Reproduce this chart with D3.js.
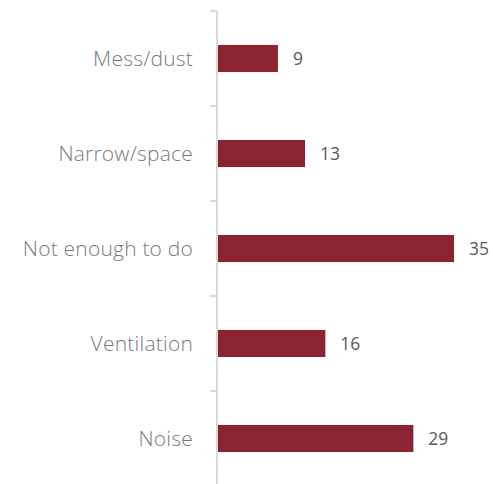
<!DOCTYPE html>
<html>
<head>
<meta charset="utf-8">
<script src="https://cdn.jsdelivr.net/npm/d3@7"></script>
<style>
  body { margin: 0; background: #fff; }
  svg { display: block; }
</style>
</head>
<body>
<script>
const categories = ['Mess/dust', 'Narrow/space', 'Not enough to do', 'Ventilation', 'Noise'];
const values = [9, 13, 35, 16, 29];

const width = 493;
const height = 484;
const margin = {top: 11, right: 20, bottom: -2, left: 217};

const svg = d3.select('body').append('svg')
  .attr('width', width)
  .attr('height', height);

const x = d3.scaleLinear().domain([0, 35]).range([margin.left, margin.left + 237]);
const y = d3.scaleBand().domain(categories)
  .range([margin.top, height - margin.bottom])
  .paddingInner(0.715).paddingOuter(0.3575);

// axis line + tick marks between bands
const axisColor = '#d9d9d9';
svg.append('line')
  .attr('x1', margin.left).attr('x2', margin.left)
  .attr('y1', margin.top).attr('y2', height)
  .attr('stroke', axisColor).attr('stroke-width', 2);

const step = y.step();
const tickYs = d3.range(categories.length + 1).map(i => margin.top + i * step);
svg.selectAll('.tick').data(tickYs).enter().append('line')
  .attr('class', 'tick')
  .attr('x1', margin.left - 7).attr('x2', margin.left)
  .attr('y1', d => d).attr('y2', d => d)
  .attr('stroke', axisColor).attr('stroke-width', 2);

svg.selectAll('.bar').data(categories).enter().append('rect')
  .attr('class', 'bar')
  .attr('x', x(0) + 1)
  .attr('y', d => y(d))
  .attr('width', (d, i) => x(values[i]) - x(0) - 1)
  .attr('height', y.bandwidth())
  .attr('fill', '#8a2332');

svg.selectAll('.cat').data(categories).enter().append('text')
  .attr('class', 'cat')
  .attr('x', margin.left - 24)
  .attr('y', d => y(d) + y.bandwidth() / 2)
  .attr('dy', '0.35em')
  .attr('text-anchor', 'end')
  .attr('font-family', '"Open Sans", sans-serif')
  .attr('font-weight', 300)
  .attr('font-size', 21)
  .attr('letter-spacing', 0.2)
  .attr('fill', '#7a7a7a')
  .text(d => d);

svg.selectAll('.val').data(categories).enter().append('text')
  .attr('class', 'val')
  .attr('x', (d, i) => x(values[i]) + 15)
  .attr('y', d => y(d) + y.bandwidth() / 2)
  .attr('dy', '0.35em')
  .attr('font-family', '"Open Sans", sans-serif')
  .attr('font-size', 17.5)
  .attr('fill', '#595959')
  .text((d, i) => values[i]);
</script>
</body>
</html>
